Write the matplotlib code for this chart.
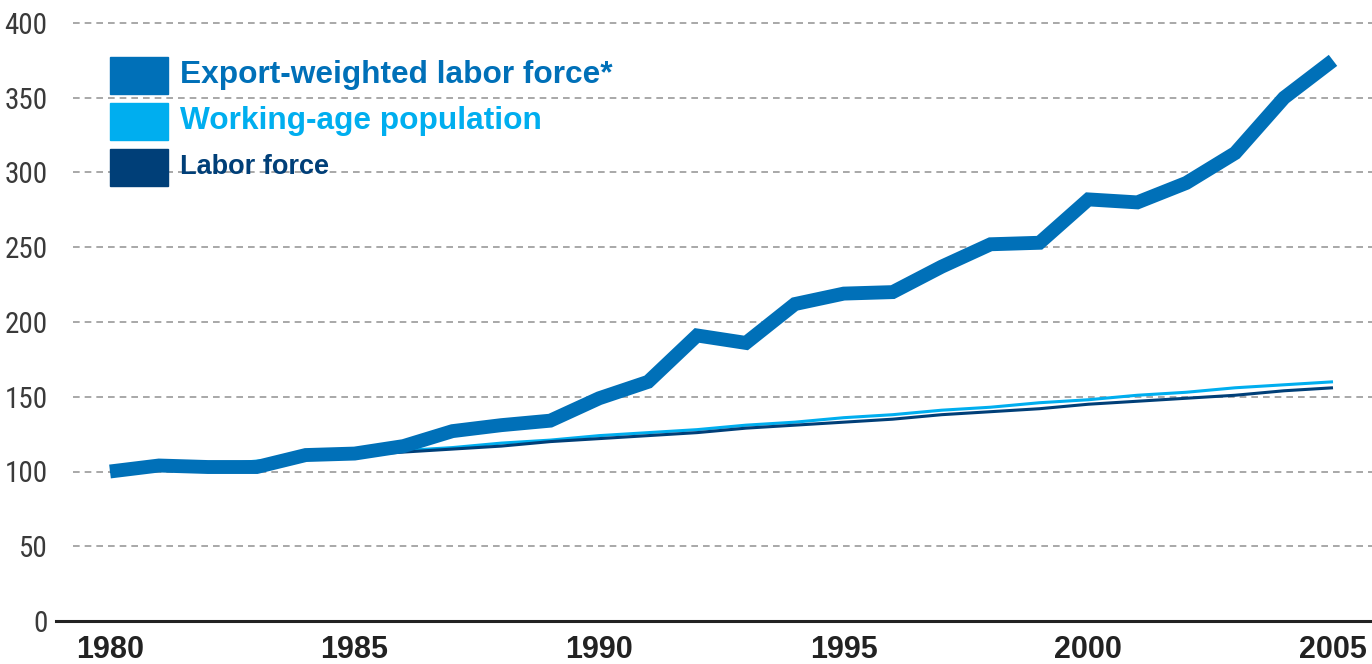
import matplotlib
matplotlib.use("Agg")
import matplotlib.pyplot as plt
from matplotlib.patches import Rectangle

years = list(range(1980, 2006))
export_weighted = [100, 104, 103, 103, 111, 112, 117, 127, 131, 134, 149, 160, 191, 186,
                   212, 219, 220, 237, 252, 253, 282, 280, 293, 313, 350, 375]
working_age = [100, 102, 104, 107, 109, 112, 114, 116, 119, 121, 124, 126, 128, 131,
               133, 136, 138, 141, 143, 146, 148, 151, 153, 156, 158, 160]
labor_force = [100, 102, 104, 106, 108, 111, 113, 115, 117, 120, 122, 124, 126, 129,
               131, 133, 135, 138, 140, 142, 145, 147, 149, 151, 154, 156]
yticks = [0, 50, 100, 150, 200, 250, 300, 350, 400]
xticks = [1980, 1985, 1990, 1995, 2000, 2005]
labels = ["Export-weighted labor force*", "Working-age population", "Labor force"]
colors = ["#0070b8", "#00aeef", "#003f78"]

cond = ["Roboto Condensed", "Liberation Sans Narrow", "DejaVu Sans"]

W, H = 1372, 664
fig = plt.figure(figsize=(W / 100, H / 100), dpi=100)
ax = fig.add_axes([56 / W, (H - 621) / H, (W - 56) / W, 621 / H])
px_per_year = (1333 - 110) / 25
ax.set_xlim(1980 - 54 / px_per_year, 2005 + 39 / px_per_year)
px_per_unit = (621 - 23) / 400
ax.set_ylim(0, 621 / px_per_unit)

gx0 = (73 - 56) / (W - 56)
for y in yticks[1:]:
    ax.axhline(y, xmin=gx0, xmax=1, color="#9a9a9a", lw=1.2, ls=(0, (4, 3)), zorder=1)

ax.plot(years, working_age, color=colors[1], lw=2.2, zorder=2, solid_capstyle="butt")
ax.plot(years, labor_force, color=colors[2], lw=2.2, zorder=2, solid_capstyle="butt")
ax.plot(years, export_weighted, color=colors[0], lw=10, zorder=3,
        solid_joinstyle="miter", solid_capstyle="butt")

for s in ["top", "right", "left"]:
    ax.spines[s].set_visible(False)
ax.spines["bottom"].set_color("#222222")
ax.spines["bottom"].set_linewidth(2.2)

ax.set_yticks(yticks)
ax.set_yticklabels([str(v) for v in yticks], family=cond, fontweight="normal",
                   fontsize=21, color="#3a3a3a")
ax.tick_params(axis="y", length=0, pad=6)
ax.set_xticks(xticks)
ax.set_xticklabels([str(v) for v in xticks], family=["Liberation Sans", "DejaVu Sans"],
                   fontsize=22, fontweight="bold", color="#222222")
ax.tick_params(axis="x", length=0, pad=10)

# legend
box_tops = [57, 103, 149]
text_sizes = [22.8, 22.8, 19.5]
for top, lab, col, fs in zip(box_tops, labels, colors, text_sizes):
    fig.patches.append(Rectangle((110 / W, (H - top - 37) / H), 58 / W, 37 / H,
                                 transform=fig.transFigure, color=col, zorder=5))
    fig.text(180 / W, (H - top - 18.5) / H, lab, color=col, fontsize=fs, fontweight="bold",
             family=["Liberation Sans", "DejaVu Sans"], va="center", ha="left", zorder=6)

fig.savefig("out.png", dpi=100)
